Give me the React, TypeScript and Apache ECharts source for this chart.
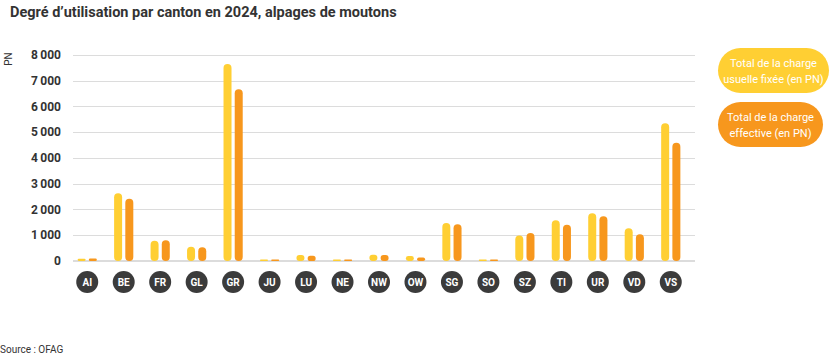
import React, { useEffect, useRef } from "react";
import * as echarts from "echarts";

const title = "Degré d’utilisation par canton en 2024, alpages de moutons";
const source = "Source : OFAG";
const unit = "PN";
const cantons = ["AI", "BE", "FR", "GL", "GR", "JU", "LU", "NE", "NW", "OW", "SG", "SO", "SZ", "TI", "UR", "VD", "VS"];
const chargeFixee = [90, 2630, 790, 555, 7650, 60, 230, 60, 245, 190, 1475, 60, 995, 1580, 1850, 1270, 5350];
const chargeEffective = [100, 2420, 810, 530, 6670, 60, 200, 60, 230, 140, 1425, 60, 1085, 1410, 1735, 1035, 4595];
const legendFixee = "Total de la charge\nusuelle fixée (en PN)";
const legendEffective = "Total de la charge\neffective (en PN)";
const yMin = 0;
const yMax = 8000;
const yInterval = 1000;

const YELLOW = "#FFCF33";
const ORANGE = "#F7971D";
const FONT = "Roboto, 'Noto Sans', sans-serif";

function fmt(v: number): string {
  const s = String(Math.round(v));
  return s.replace(/\B(?=(\d{3})+(?!\d))/g, "\u2009");
}

export default function App() {
  const ref = useRef<HTMLDivElement>(null);
  useEffect(() => {
    if (!ref.current) return;
    const chart = echarts.init(ref.current, null, { renderer: "svg" });
    chart.setOption({
      animation: false,
      textStyle: { fontFamily: FONT },
      title: {
        text: title,
        left: 5,
        top: 0,
        textStyle: { fontSize: 14.5, fontWeight: "bold", color: "#333", fontFamily: FONT },
      },
      grid: [
        { left: 73, right: 141, top: 55, bottom: 94 },
        { left: 69, right: 147, top: 55, bottom: 94 },
      ],
      xAxis: [
        { gridIndex: 0, type: "category", data: cantons, show: false },
        {
          gridIndex: 1,
          type: "category",
          data: cantons,
          axisLine: { show: false },
          axisTick: { show: false },
          axisLabel: {
            margin: 21,
            color: "#fff",
            fontSize: 10,
            fontWeight: "bold",
            fontFamily: FONT,
            backgroundColor: "#3b3b3b",
            width: 22,
            height: 22,
            lineHeight: 22,
            borderRadius: 11,
            align: "center",
            verticalAlign: "middle",
            interval: 0,
          },
        },
      ],
      yAxis: [
        {
          gridIndex: 0,
          type: "value",
          min: yMin,
          max: yMax,
          interval: yInterval,
          axisLine: { show: false },
          axisTick: { show: false },
          splitLine: {
            lineStyle: { color: "#dcdcdc", width: 1 },
          },
          axisLabel: {
            margin: 12,
            color: "#333",
            fontSize: 12,
            fontWeight: "bold",
            fontFamily: FONT,
            formatter: (v: number) => fmt(v),
          },
        },
        {
          gridIndex: 1,
          type: "value",
          min: yMin,
          max: yMax,
          interval: yInterval,
          show: false,
          splitLine: { show: false },
        },
      ],
      series: [
        {
          name: "fixee",
          type: "bar",
          xAxisIndex: 1,
          yAxisIndex: 1,
          data: chargeFixee,
          barWidth: 8,
          barGap: "40%",
          itemStyle: { color: YELLOW, borderRadius: 4 },
        },
        {
          name: "effective",
          type: "bar",
          xAxisIndex: 1,
          yAxisIndex: 1,
          data: chargeEffective,
          barWidth: 8,
          barGap: "40%",
          itemStyle: { color: ORANGE, borderRadius: 4 },
        },
      ],
      graphic: [
        {
          type: "rect",
          shape: { x: 73, y: 260, width: 622, height: 2 },
          style: { fill: "#dcdcdc" },
          z: 1,
        },
        {
          type: "text",
          x: 8,
          y: 59,
          rotation: Math.PI / 2,
          style: {
            text: unit,
            fill: "#333",
            font: `10px ${FONT}`,
            align: "center",
            verticalAlign: "middle",
          },
        },
        {
          type: "text",
          left: 0,
          top: 344,
          style: { text: source, fill: "#333", font: `10px ${FONT}` },
        },
        {
          type: "rect",
          shape: { x: 718, y: 48, width: 111, height: 45, r: 22.5 },
          style: { fill: YELLOW },
        },
        {
          type: "text",
          x: 773.5,
          y: 71,
          style: {
            text: legendFixee,
            fill: "#fff",
            font: `11px ${FONT}`,
            lineHeight: 16,
            align: "center",
            verticalAlign: "middle",
          },
        },
        {
          type: "rect",
          shape: { x: 718, y: 102, width: 105, height: 45, r: 22.5 },
          style: { fill: ORANGE },
        },
        {
          type: "text",
          x: 770.5,
          y: 125,
          style: {
            text: legendEffective,
            fill: "#fff",
            font: `11px ${FONT}`,
            lineHeight: 16,
            align: "center",
            verticalAlign: "middle",
          },
        },
      ],
    });
    return () => chart.dispose();
  }, []);
  return (
    <div
      ref={ref}
      style={{ position: "fixed", left: 0, top: 0, width: 836, height: 355, background: "#fff" }}
    />
  );
}
